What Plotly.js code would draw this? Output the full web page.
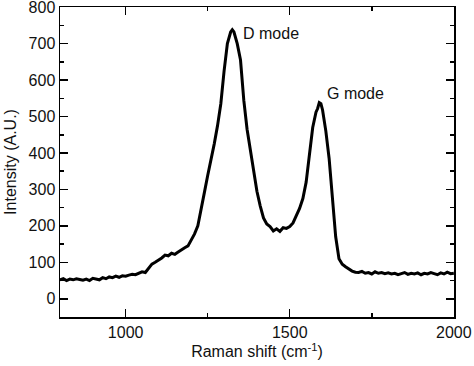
<!DOCTYPE html>
<html><head><meta charset="utf-8">
<script src="https://cdn.plot.ly/plotly-3.0.1.min.js"></script>
<style>html,body{margin:0;padding:0;background:#fff;}#chart{width:474px;height:366px;}</style>
</head><body><div id="chart"></div>
<script>
// Raman shift (cm^-1)
const ramanShift = [
 800,810,820,830,840,850,860,870,880,890,
 900,910,920,930,940,950,960,970,980,990,
 1000,1010,1020,1030,1040,1050,1060,1070,1080,1090,
 1100,1110,1120,1130,1140,1150,1160,1170,1180,1190,
 1200,1210,1220,1230,1240,1250,1260,1270,1280,1290,
 1300,1310,1320,1325,1330,1340,1350,1360,1370,1380,1390,
 1400,1410,1420,1430,1440,1450,1460,1470,1480,1490,
 1500,1510,1520,1530,1540,1550,1560,1570,1580,1585,1590,1595,
 1600,1610,1620,1630,1640,1650,1660,1670,1680,1690,
 1700,1710,1720,1730,1740,1750,1760,1770,1780,1790,
 1800,1810,1820,1830,1840,1850,1860,1870,1880,1890,
 1900,1910,1920,1930,1940,1950,1960,1970,1980,1990,2000
];
// Intensity (A.U.)
const intensity = [
 52,55,50,54,52,55,53,51,54,50,
 56,55,52,58,55,60,58,62,59,63,
 62,65,67,66,70,74,72,82,95,100,
 105,112,120,118,125,122,128,135,140,145,
 160,178,200,250,292,338,380,425,475,535,
 625,700,732,738,732,700,655,545,465,405,345,
 295,255,222,205,198,186,192,185,195,193,
 198,208,228,248,275,320,395,470,512,522,538,535,
 518,460,385,270,170,110,95,88,82,76,
 73,72,75,70,72,68,74,70,72,69,
 71,68,70,66,69,72,67,70,68,71,
 66,70,68,72,69,66,71,68,73,69,70
];
const yTicks = [0, 100, 200, 300, 400, 500, 600, 700, 800];
const xTicks = [1000, 1500, 2000];
const annText = ["D mode", "G mode"];
const annX = [1352, 1606];
const annY = [728, 562];

const font = {family: "Arial, 'Liberation Sans', sans-serif", size: 16, color: "#111"};
const trace = {
  x: ramanShift, y: intensity, type: "scatter", mode: "lines",
  line: {color: "#000", width: 3}, hoverinfo: "skip"
};
const annotations = annText.map((t, i) => ({
  x: annX[i], y: annY[i], xref: "x", yref: "y", text: t, showarrow: false,
  xanchor: "left", yanchor: "middle", font: font
}));
const axisCommon = {
  showgrid: false, zeroline: false, showline: true, linecolor: "#000", linewidth: 1.5,
  mirror: "ticks", ticks: "inside", ticklen: 8, tickwidth: 1.5, tickcolor: "#000",
  tickfont: font, automargin: false
};
const layout = {
  width: 474, height: 366,
  margin: {l: 60, r: 20, t: 7, b: 49},
  paper_bgcolor: "#fff", plot_bgcolor: "#fff",
  showlegend: false,
  font: font,
  xaxis: Object.assign({}, axisCommon, {
    range: [800, 2000.5], tickvals: xTicks, ticktext: xTicks.map(String),
    minor: {tickvals: [1250, 1750], ticks: "inside", ticklen: 4, tickwidth: 1.5, tickcolor: "#000"},
    title: {text: "Raman shift (cm<sup>-1</sup>)", font: font, standoff: 6}
  }),
  yaxis: Object.assign({}, axisCommon, {
    range: [-50, 800.5], tickvals: yTicks, ticktext: yTicks.map(String),
    ticklabeloverflow: "allow",
    minor: {dtick: 50, tick0: 50, ticks: "inside", ticklen: 4, tickwidth: 1.5, tickcolor: "#000"},
    title: {text: "Intensity (A.U.)", font: font, standoff: 8}
  }),
  annotations: annotations
};
Plotly.newPlot("chart", [trace], layout, {staticPlot: true, displayModeBar: false});
</script></body></html>
